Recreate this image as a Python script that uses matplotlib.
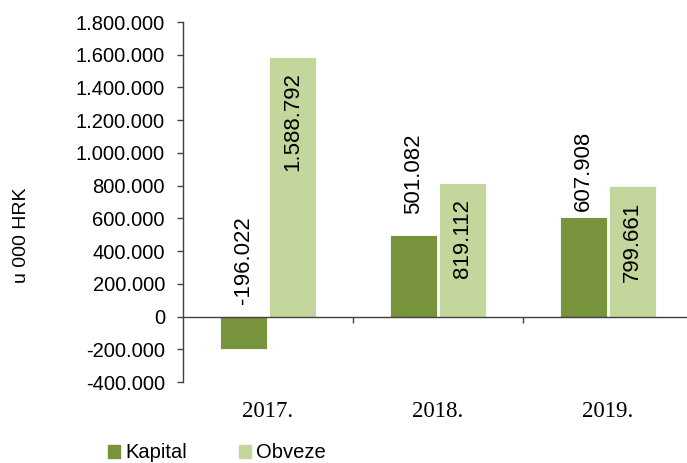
import matplotlib
matplotlib.use("Agg")
import matplotlib.pyplot as plt
import numpy as np
from matplotlib.ticker import FuncFormatter, FixedLocator
from matplotlib.patches import Patch

# Data (u 000 HRK)
years = ["2017.", "2018.", "2019."]
kapital = [-196022, 501082, 607908]
obveze = [1588792, 819112, 799661]
series_names = ["Kapital", "Obveze"]

c_kap = "#77933C"
c_obv = "#C3D69B"
axis_col = "#404040"


def fmt_thousands(v):
    s = f"{abs(int(round(v))):,}".replace(",", ".")
    return ("-" if v < 0 else "") + s


plt.rcParams["font.family"] = ["Liberation Sans", "DejaVu Sans"]

fig = plt.figure(figsize=(6.87, 4.63), dpi=100)
W, H = 687, 463
ax = fig.add_axes([183 / W, 81 / H, 510 / W, 360 / H])

x = np.arange(len(years))
bw = 0.28
off = 0.144
ax.bar(x - off, kapital, bw, color=c_kap, edgecolor="white", linewidth=0.6, zorder=2)
ax.bar(x + off, obveze, bw, color=c_obv, edgecolor="white", linewidth=0.6, zorder=2)

ax.set_xlim(-0.5, 2.5)
ax.set_ylim(-400000, 1800000)
ax.yaxis.set_major_locator(FixedLocator(np.arange(-400000, 1800001, 200000)))
ax.yaxis.set_major_formatter(FuncFormatter(lambda v, p: fmt_thousands(v)))

for s in ["top", "right"]:
    ax.spines[s].set_visible(False)
ax.spines["left"].set_color(axis_col)
ax.spines["bottom"].set_color(axis_col)
ax.spines["bottom"].set_position(("data", 0))
ax.spines["left"].set_linewidth(1.0)
ax.spines["bottom"].set_linewidth(1.0)

ax.tick_params(axis="y", direction="out", length=4.5, width=1.0, color=axis_col,
               labelsize=14.5, pad=8.5, labelcolor="#000000")
ax.set_xticks([0.5, 1.5])
ax.tick_params(axis="x", direction="out", length=4.5, width=1.0, color=axis_col,
               labelbottom=False)

# Category labels below the plot area
for xi, yr in zip(x, years):
    ax.text(xi, -0.083, yr, transform=ax.get_xaxis_transform(), ha="center", va="center",
            fontsize=16.5, family=["Liberation Serif", "DejaVu Serif"], color="#000000")

ax.set_ylabel("u 000 HRK", fontsize=14)
ax.yaxis.set_label_coords(-153 / 510, 0.5 + (316.5 - 235) / 360 - (316.5 - 201.5) / 360)

# Value labels: Kapital above the bar, Obveze inside the top of the bar
kap_pad = [13, 21, 6]
for xi, v, pad in zip(x, kapital, kap_pad):
    ax.annotate(fmt_thousands(v), (xi - off, max(v, 0)), xytext=(0, pad),
                textcoords="offset pixels", rotation=90, ha="center", va="bottom",
                fontsize=16, color="#000000", zorder=3)
for xi, v in zip(x, obveze):
    ax.annotate(fmt_thousands(v), (xi + off, v), xytext=(0, -16),
                textcoords="offset pixels", rotation=90, ha="center", va="top",
                fontsize=16, color="#000000", zorder=3)

handles = [Patch(color=c_kap), Patch(color=c_obv)]
fig.legend(handles, series_names, loc="center left", bbox_to_anchor=(100 / W, 1 - 453 / H),
           ncol=2, frameon=False, fontsize=14.5, handlelength=0.6, handleheight=0.6,
           handletextpad=0.25, columnspacing=2.6, borderaxespad=0)

fig.savefig("out.png", dpi=100)
